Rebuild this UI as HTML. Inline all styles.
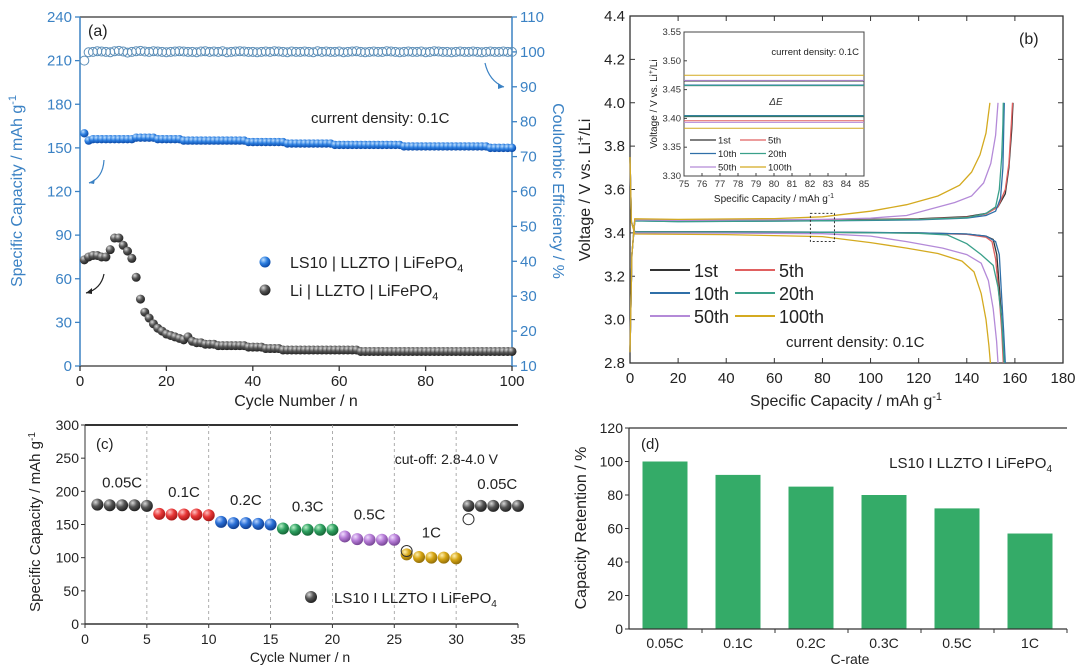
<!DOCTYPE html>
<html><head><meta charset="utf-8"><style>
html,body{margin:0;padding:0;background:#fff;}
svg{display:block;font-family:"Liberation Sans",sans-serif;}
.n{font-family:"Liberation Sans",sans-serif;}
</style></head><body>
<svg id="fig" width="1080" height="668" viewBox="0 0 1080 668" xmlns="http://www.w3.org/2000/svg">
<defs>
<radialGradient id="gBlue" cx="35%" cy="30%" r="70%"><stop offset="0" stop-color="#bfe0ff"/><stop offset="0.5" stop-color="#2d7fe0"/><stop offset="1" stop-color="#0b4aa8"/></radialGradient>
<radialGradient id="gGray" cx="35%" cy="30%" r="70%"><stop offset="0" stop-color="#d8d8d8"/><stop offset="0.5" stop-color="#555"/><stop offset="1" stop-color="#222"/></radialGradient>
<radialGradient id="gRed" cx="35%" cy="30%" r="70%"><stop offset="0" stop-color="#ffc0c0"/><stop offset="0.5" stop-color="#e83838"/><stop offset="1" stop-color="#a81818"/></radialGradient>
<radialGradient id="gB2" cx="35%" cy="30%" r="70%"><stop offset="0" stop-color="#b8d4ff"/><stop offset="0.5" stop-color="#2a6fd6"/><stop offset="1" stop-color="#123f90"/></radialGradient>
<radialGradient id="gGreen" cx="35%" cy="30%" r="70%"><stop offset="0" stop-color="#b8f0c8"/><stop offset="0.5" stop-color="#2ea060"/><stop offset="1" stop-color="#166838"/></radialGradient>
<radialGradient id="gPurple" cx="35%" cy="30%" r="70%"><stop offset="0" stop-color="#f0dcff"/><stop offset="0.5" stop-color="#b57bd6"/><stop offset="1" stop-color="#7a4898"/></radialGradient>
<radialGradient id="gGold" cx="35%" cy="30%" r="70%"><stop offset="0" stop-color="#fff0b0"/><stop offset="0.5" stop-color="#d6a512"/><stop offset="1" stop-color="#94700a"/></radialGradient>
</defs>
<g id="pa"></g>
<g id="pb"></g>
<g id="pc"></g>
<g id="pd"></g>
</svg>
<script>
// ---- Panel (a) data ----
const aLS10Cap = [160,155,156,156,156,156,156,156,156,156,156,156,157,157,157,157,157,156,156,156,156,156,156,155,155,155,155,155,155,155,155,155,155,155,155,155,155,155,154,154,154,154,154,154,154,154,154,153,153,153,153,153,153,153,153,153,153,153,152,152,152,152,152,152,152,152,152,152,152,152,152,152,152,152,151,151,151,151,151,151,151,151,151,151,151,151,151,151,151,151,151,151,151,151,150,150,150,150,150,150];
const aLiCap = [73,75,76,76,75,75,80,88,88,83,79,74,61,46,37,33,29,26,24,22,21,20,19,18,20,17,16,16,15,15,15,14,14,14,14,14,14,14,13,13,13,13,12,12,12,12,11,11,11,11,11,11,11,11,11,11,11,11,11,11,11,11,11,11,10,10,10,10,10,10,10,10,10,10,10,10,10,10,10,10,10,10,10,10,10,10,10,10,10,10,10,10,10,10,10,10,10,10,10,10];
const aCE = [97.5,99.9,100,100.2,100.1,100,99.9,100.2,100.3,100.1,99.8,100,100.2,100.3,100.1,100,100.2,100.1,100,99.9,100,100.1,100.2,100.1,100,100,99.9,100.1,100.2,100,100.1,100,100.2,99.9,100,100.1,100.2,100.1,100,100,99.9,100,100.1,100,100.2,100.1,100,99.9,100.1,100,100,100.1,100,99.9,100.2,100,100.1,100,100,100.1,99.9,100,100.1,100.2,100,99.9,100,100.1,100,100,100.2,100.1,100,99.9,100,100.1,100,100,100.1,99.9,100,100.2,100.1,100,100,99.9,100,100.1,100,100,100.1,100,99.9,100,100.1,100,100,100.1,100,100];
const aYTicks = [0,30,60,90,120,150,180,210,240];
const aY2Ticks = [10,20,30,40,50,60,70,80,90,100,110];
const aXTicks = [0,20,40,60,80,100];
// ---- Panel (b) data: [capacity, voltage] ----
const bLabels = ["1st","5th","10th","20th","50th","100th"];
const bCharge1 = [[0,2.85],[0.8,3.3],[2,3.462],[20,3.457],[80,3.46],[120,3.465],[140,3.475],[148,3.49],[153,3.52],[156,3.58],[157.5,3.7],[158.7,3.88],[159.2,4.0]];
const bCharge5 = [[0,2.85],[0.8,3.3],[2,3.46],[20,3.456],[80,3.458],[120,3.463],[140,3.472],[148,3.487],[153,3.52],[156,3.6],[157.5,3.72],[158.5,3.9],[159,4.0]];
const bCharge10 = [[0,2.85],[0.8,3.3],[2,3.455],[20,3.452],[80,3.455],[120,3.46],[140,3.468],[148,3.48],[152,3.5],[154,3.56],[155,3.7],[155.4,3.9],[155.6,4.0]];
const bCharge20 = [[0,2.85],[0.8,3.3],[2,3.455],[20,3.452],[80,3.456],[120,3.462],[140,3.47],[148,3.49],[152,3.52],[153.5,3.6],[154.5,3.75],[155,3.9],[155.2,4.0]];
const bCharge50 = [[0,2.85],[0.8,3.3],[2,3.46],[20,3.458],[80,3.462],[100,3.468],[115,3.48],[125,3.51],[135,3.54],[142,3.57],[147,3.63],[150,3.72],[152,3.85],[153,4.0]];
const bCharge100 = [[0,2.85],[0.8,3.3],[2,3.465],[20,3.462],[60,3.466],[80,3.474],[100,3.5],[115,3.53],[128,3.57],[137,3.62],[142,3.68],[145.5,3.76],[148,3.86],[149.6,4.0]];
const bDis1 = [[0,3.75],[0.6,3.45],[2,3.405],[40,3.405],[80,3.403],[120,3.4],[140,3.395],[148,3.385],[151,3.37],[152.5,3.3],[153.5,3.15],[154.5,3.0],[155.5,2.8]];
const bDis5 = [[0,3.75],[0.6,3.45],[2,3.403],[40,3.403],[80,3.402],[120,3.399],[140,3.393],[148,3.38],[150.5,3.36],[152,3.28],[153.5,3.1],[154.5,2.95],[155.2,2.8]];
const bDis10 = [[0,3.75],[0.6,3.45],[2,3.404],[40,3.404],[80,3.403],[120,3.4],[140,3.395],[148,3.385],[152,3.36],[153.5,3.3],[154.5,3.1],[155.3,2.95],[156,2.8]];
const bDis20 = [[0,3.75],[0.6,3.45],[2,3.404],[40,3.404],[80,3.402],[120,3.398],[132,3.39],[140,3.35],[146,3.3],[151,3.25],[153,3.15],[154.5,3.0],[155.5,2.8]];
const bDis50 = [[0,3.75],[0.6,3.45],[2,3.4],[40,3.399],[80,3.396],[100,3.385],[115,3.36],[130,3.33],[140,3.3],[146,3.26],[149,3.18],[151,3.05],[152.4,2.9],[153,2.8]];
const bDis100 = [[0,3.75],[0.6,3.45],[2,3.395],[40,3.392],[80,3.383],[100,3.355],[115,3.33],[128,3.305],[138,3.27],[143,3.22],[146,3.12],[148,3.0],[149.2,2.88],[149.8,2.8]];
const bXTicks = [0,20,40,60,80,100,120,140,160,180];
const bYTicks = [2.8,3.0,3.2,3.4,3.6,3.8,4.0,4.2,4.4];
const inCharge = [3.465,3.457,3.458,3.457,3.466,3.475];
const inDis = [3.403,3.396,3.405,3.404,3.393,3.383];
const inXTicks = [75,76,77,78,79,80,81,82,83,84,85];
const inYTicks = [3.30,3.35,3.40,3.45,3.50,3.55];
// ---- Panel (c) data ----
const cRates = ["0.05C","0.1C","0.2C","0.3C","0.5C","1C","0.05C"];
const cCap = [[180,179,179,179,178],[166,165,165,165,164],[154,152,152,151,150],[144,142,142,142,142],[132,128,127,127,127],[105,101,100,100,99],[178,178,178,178,178]];
const cHollow = [[31,158],[26,110]];
const cYTicks = [0,50,100,150,200,250,300];
const cXTicks = [0,5,10,15,20,25,30,35];
// ---- Panel (d) data ----
const dCats = ["0.05C","0.1C","0.2C","0.3C","0.5C","1C"];
const dVals = [100,92,85,80,72,57];
const dYTicks = [0,20,40,60,80,100,120];

const NS="http://www.w3.org/2000/svg";
function mk(parent,tag,attrs,txt){const e=document.createElementNS(NS,tag);for(const k in attrs)e.setAttribute(k,attrs[k]);if(txt!==undefined)e.textContent=txt;parent.appendChild(e);return e;}
function lin(d0,d1,r0,r1){return v=>r0+(v-d0)/(d1-d0)*(r1-r0);}
function pathOf(pts,sx,sy){return pts.map((p,i)=>(i?'L':'M')+sx(p[0]).toFixed(1)+' '+sy(p[1]).toFixed(1)).join('');}

// ===== Panel a =====
(function(){
const g=document.getElementById('pa');
const X0=80,X1=512,Y0=366,Y1=17;
const sx=lin(0,100,X0,X1), sy=lin(0,240,Y0,Y1), sy2=lin(10,110,Y0,Y1);
const blue="#3b82c4";
let el;
el=mk(g,'line',{x1:X0,y1:Y1,x2:X1,y2:Y1,stroke:'#333','stroke-width':1.3});

el=mk(g,'line',{x1:X0,y1:Y0,x2:X1,y2:Y0,stroke:'#333','stroke-width':1.3});

el=mk(g,'line',{x1:X0,y1:Y0,x2:X0,y2:Y1,stroke:blue,'stroke-width':1.5});

el=mk(g,'line',{x1:X1,y1:Y0,x2:X1,y2:Y1,stroke:blue,'stroke-width':1.5});

aYTicks.forEach(v=>{const y=sy(v);mk(g,'line',{x1:X0-5,y1:y,x2:X0,y2:y,stroke:blue,'stroke-width':1.3});
 el=mk(g,'text',{x:X0-8,y:y+5,'text-anchor':'end','font-size':15,fill:blue},v);
 });
aY2Ticks.forEach(v=>{const y=sy2(v);mk(g,'line',{x1:X1,y1:y,x2:X1+5,y2:y,stroke:blue,'stroke-width':1.3});
 el=mk(g,'text',{x:X1+8,y:y+5,'font-size':15,fill:blue},v);
 });
aXTicks.forEach(v=>{const x=sx(v);mk(g,'line',{x1:x,y1:Y0,x2:x,y2:Y0+5,stroke:'#333','stroke-width':1.3});
 el=mk(g,'text',{x:x,y:Y0+20,'text-anchor':'middle','font-size':15,fill:'#222'},v);
 });
el=mk(g,'text',{x:296,y:406,'text-anchor':'middle','font-size':16,fill:'#222'},'Cycle Number / n');

el=mk(g,'text',{transform:'translate(22,191) rotate(-90)','text-anchor':'middle','font-size':16,fill:blue},'Specific Capacity / mAh g');

mk(el,'tspan',{dy:-6,'font-size':11},'-1');
el=mk(g,'text',{transform:'translate(553,191) rotate(90)','text-anchor':'middle','font-size':16,fill:blue},'Coulombic Efficiency / %');

aCE.forEach((v,i)=>{el=mk(g,'circle',{cx:sx(i+1),cy:sy2(v),r:4.5,fill:'none',stroke:'#5d8fb8','stroke-width':1});
 });
aLiCap.forEach((v,i)=>{el=mk(g,'circle',{cx:sx(i+1),cy:sy(v),r:4.5,fill:'url(#gGray)'});
 });
aLS10Cap.forEach((v,i)=>{el=mk(g,'circle',{cx:sx(i+1),cy:sy(v),r:4.2,fill:'url(#gBlue)'});
 });
el=mk(g,'text',{x:88,y:36,'font-size':16,fill:'#222'},'(a)');

el=mk(g,'text',{x:311,y:123,'font-size':15,fill:'#222'},'current density: 0.1C');

el=mk(g,'circle',{cx:265,cy:262,r:5.5,fill:'url(#gBlue)'});

el=mk(g,'text',{x:290,y:268,'font-size':16,fill:'#222'},'LS10 | LLZTO | LiFePO');

mk(el,'tspan',{dy:4,'font-size':11},'4');
el=mk(g,'circle',{cx:265,cy:290,r:5.5,fill:'url(#gGray)'});

el=mk(g,'text',{x:290,y:296,'font-size':16,fill:'#222'},'Li | LLZTO | LiFePO');

mk(el,'tspan',{dy:4,'font-size':11},'4');
el=mk(g,'path',{d:'M104 160 Q103 178 89 183',fill:'none',stroke:blue,'stroke-width':1.2});

mk(g,'path',{d:'M89 183 l6 -4 l-1 5 z',fill:blue});
el=mk(g,'path',{d:'M485 63 Q489 81 504 87',fill:'none',stroke:blue,'stroke-width':1.2});

mk(g,'path',{d:'M504 87 l-6 -4 l0 6 z',fill:blue});
el=mk(g,'path',{d:'M104 274 Q101 289 86 293',fill:'none',stroke:'#222','stroke-width':1.2});

mk(g,'path',{d:'M86 293 l6 -5 l0 6 z',fill:'#222'});
})();

// ===== Panel b =====
(function(){
const g=document.getElementById('pb');
const X0=630,X1=1063,Y0=363,Y1=16;
const sx=lin(0,180,X0,X1), sy=lin(2.8,4.4,Y0,Y1);
const cols=["#333333","#e06060","#2f6fa8","#3aa08a","#b48ad8","#d4aa20"];
const charges=[bCharge1,bCharge5,bCharge10,bCharge20,bCharge50,bCharge100];
const dis=[bDis1,bDis5,bDis10,bDis20,bDis50,bDis100];
let el;
el=mk(g,'rect',{x:X0,y:Y1,width:X1-X0,height:Y0-Y1,fill:'none',stroke:'#333','stroke-width':1.3});

bXTicks.forEach(v=>{const x=sx(v);mk(g,'line',{x1:x,y1:Y0,x2:x,y2:Y0-5,stroke:'#333'});mk(g,'line',{x1:x,y1:Y1,x2:x,y2:Y1+5,stroke:'#333'});
 el=mk(g,'text',{x:x,y:Y0+20,'text-anchor':'middle','font-size':15,fill:'#222'},v);
 });
bYTicks.forEach(v=>{const y=sy(v);mk(g,'line',{x1:X0,y1:y,x2:X0+5,y2:y,stroke:'#333'});mk(g,'line',{x1:X1,y1:y,x2:X1-5,y2:y,stroke:'#333'});
 el=mk(g,'text',{x:X0-5,y:y+5,'text-anchor':'end','font-size':15,fill:'#222'},v.toFixed(1));
 });
el=mk(g,'text',{x:846,y:406,'text-anchor':'middle','font-size':16,fill:'#222'},'Specific Capacity / mAh g');

mk(el,'tspan',{dy:-6,'font-size':11},'-1');
el=mk(g,'text',{transform:'translate(590,190) rotate(-90)','text-anchor':'middle','font-size':16,fill:'#222'},'Voltage / V vs. Li');

mk(el,'tspan',{dy:-6,'font-size':11},'+');mk(el,'tspan',{dy:6},'/Li');
for(let i=0;i<6;i++){
 el=mk(g,'path',{d:pathOf(charges[i],sx,sy),fill:'none',stroke:cols[i],'stroke-width':1.3});
 
 el=mk(g,'path',{d:pathOf(dis[i],sx,sy),fill:'none',stroke:cols[i],'stroke-width':1.3});
 
}
el=mk(g,'rect',{x:sx(75),y:sy(3.49),width:sx(85)-sx(75),height:sy(3.36)-sy(3.49),fill:'none',stroke:'#333','stroke-dasharray':'2 2'});

for(let i=0;i<6;i++){const c=i%2,r=Math.floor(i/2);const lx=c?735:650,ly=270+r*23;
 el=mk(g,'line',{x1:lx,y1:ly,x2:lx+40,y2:ly,stroke:cols[i],'stroke-width':2});
 
 el=mk(g,'text',{x:lx+44,y:ly+7,'font-size':18,fill:'#222'},bLabels[i]);
 }
el=mk(g,'text',{x:786,y:347,'font-size':15,fill:'#222'},'current density: 0.1C');

el=mk(g,'text',{x:1019,y:44,'font-size':16,fill:'#222'},'(b)');

const IX0=684,IX1=864,IY0=176,IY1=32;
const ix=lin(75,85,IX0,IX1), iy=lin(3.30,3.55,IY0,IY1);
el=mk(g,'rect',{x:IX0,y:IY1,width:IX1-IX0,height:IY0-IY1,fill:'#fff',stroke:'#444','stroke-width':1});

inXTicks.forEach(v=>{const x=ix(v);mk(g,'line',{x1:x,y1:IY0,x2:x,y2:IY0-3,stroke:'#444'});
 el=mk(g,'text',{x:x,y:IY0+11,'text-anchor':'middle','font-size':9.5,fill:'#333'},v);
 });
inYTicks.forEach(v=>{const y=iy(v);mk(g,'line',{x1:IX0,y1:y,x2:IX0+3,y2:y,stroke:'#444'});
 el=mk(g,'text',{x:IX0-3,y:y+3,'text-anchor':'end','font-size':9.5,fill:'#333'},v.toFixed(2));
 });
for(let i=0;i<6;i++){
 el=mk(g,'line',{x1:ix(75),y1:iy(inCharge[i]),x2:ix(85),y2:iy(inCharge[i]),stroke:cols[i],'stroke-width':1});
 
 el=mk(g,'line',{x1:ix(75),y1:iy(inDis[i]),x2:ix(85),y2:iy(inDis[i]),stroke:cols[i],'stroke-width':1});
 
}
el=mk(g,'text',{x:776,y:105,'text-anchor':'middle','font-size':10,'font-style':'italic',fill:'#333'},'ΔE');

el=mk(g,'text',{x:859,y:55,'text-anchor':'end','font-size':9.5,fill:'#222'},'current density: 0.1C');

for(let i=0;i<6;i++){const c=i%2,r=Math.floor(i/2);const lx=c?740:690,ly=140+r*13.5;
 mk(g,'line',{x1:lx,y1:ly,x2:lx+26,y2:ly,stroke:cols[i],'stroke-width':1.2});
 el=mk(g,'text',{x:lx+28,y:ly+3.5,'font-size':9.5,fill:'#222'},bLabels[i]);
 }
el=mk(g,'text',{x:774,y:202,'text-anchor':'middle','font-size':10,fill:'#222'},'Specific Capacity / mAh g');

mk(el,'tspan',{dy:-4,'font-size':7},'-1');
el=mk(g,'text',{transform:'translate(657,104) rotate(-90)','text-anchor':'middle','font-size':10,fill:'#222'},'Voltage / V vs. Li');

mk(el,'tspan',{dy:-4,'font-size':7},'+');mk(el,'tspan',{dy:4},'/Li');
})();

// ===== Panel c =====
(function(){
const g=document.getElementById('pc');
const X0=85,X1=518,Y0=624,Y1=425;
const sx=lin(0,35,X0,X1), sy=lin(0,300,Y0,Y1);
const grads=['url(#gGray)','url(#gRed)','url(#gB2)','url(#gGreen)','url(#gPurple)','url(#gGold)','url(#gGray)'];
let el;
el=mk(g,'line',{x1:X0,y1:Y1,x2:X1,y2:Y1,stroke:'#333','stroke-width':2});

el=mk(g,'line',{x1:X0,y1:Y0,x2:X1,y2:Y0,stroke:'#333','stroke-width':1.5});

el=mk(g,'line',{x1:X0,y1:Y0,x2:X0,y2:Y1,stroke:'#333','stroke-width':1});

cXTicks.forEach(v=>{const x=sx(v);
 if(v>0&&v<35){el=mk(g,'line',{x1:x,y1:Y1,x2:x,y2:Y0,stroke:'#999','stroke-width':0.8,'stroke-dasharray':'3 3'});
 }
 mk(g,'line',{x1:x,y1:Y0,x2:x,y2:Y0+4,stroke:'#333'});
 el=mk(g,'text',{x:x,y:Y0+20,'text-anchor':'middle','font-size':14,fill:'#222',class:'n'},v);
 });
cYTicks.forEach(v=>{const y=sy(v);mk(g,'line',{x1:X0-4,y1:y,x2:X0,y2:y,stroke:'#333'});
 el=mk(g,'text',{x:X0-6,y:y+5,'text-anchor':'end','font-size':14,fill:'#222',class:'n'},v);
 });
el=mk(g,'text',{x:300,y:662,'text-anchor':'middle','font-size':14,fill:'#222',class:'n'},'Cycle Numer / n');

el=mk(g,'text',{transform:'translate(40,522) rotate(-90)','text-anchor':'middle','font-size':15,fill:'#222'},'Specific Capacity / mAh g');

mk(el,'tspan',{dy:-5,'font-size':10},'-1');
cCap.forEach((arr,k)=>{
 arr.forEach((v,j)=>{el=mk(g,'circle',{cx:sx(k*5+j+1),cy:sy(v),r:6,fill:grads[k]});
  });
 const mx=sx(k*5+3), my=sy(Math.max(...arr))-17;
 el=mk(g,'text',{x:k===6?mx+4:mx,y:my,'text-anchor':'middle','font-size':15,fill:'#222',class:'n'},cRates[k]);
 
});
cHollow.forEach(p=>{el=mk(g,'circle',{cx:sx(p[0]),cy:sy(p[1]),r:5.5,fill:'none',stroke:'#333'});
 });
el=mk(g,'text',{x:96,y:449,'font-size':15,fill:'#222',class:'n'},'(c)');

el=mk(g,'text',{x:498,y:464,'text-anchor':'end','font-size':14,fill:'#222',class:'n'},'cut-off: 2.8-4.0 V');

el=mk(g,'circle',{cx:311,cy:597,r:6,fill:'url(#gGray)'});

el=mk(g,'text',{x:334,y:603,'font-size':15,fill:'#222',class:'n'},'LS10 I LLZTO I LiFePO');

mk(el,'tspan',{dy:4,'font-size':10},'4');
})();

// ===== Panel d =====
(function(){
const g=document.getElementById('pd');
const X0=629,X1=1067,Y0=629,Y1=428;
const sy=lin(0,120,Y0,Y1);
const cx=i=>665+73*i;
let el;
dVals.forEach((v,i)=>{el=mk(g,'rect',{x:cx(i)-22.5,y:sy(v),width:45,height:Y0-sy(v),fill:'#34ab68'});
 });
el=mk(g,'line',{x1:X0,y1:Y0,x2:X1,y2:Y0,stroke:'#333','stroke-width':1.2});

el=mk(g,'line',{x1:X0,y1:Y1,x2:X1,y2:Y1,stroke:'#333','stroke-width':1.2});

el=mk(g,'line',{x1:X0,y1:Y0,x2:X0,y2:Y1,stroke:'#333','stroke-width':1.2});

dYTicks.forEach(v=>{const y=sy(v);mk(g,'line',{x1:X0-4,y1:y,x2:X0,y2:y,stroke:'#333'});
 el=mk(g,'text',{x:X0-6,y:y+5,'text-anchor':'end','font-size':14,fill:'#222',class:'n'},v);
 });
dCats.forEach((c,i)=>{const tx=X0+(X1-X0)/6*(i+1);mk(g,'line',{x1:tx,y1:Y0,x2:tx,y2:Y0+4,stroke:'#333'});
 el=mk(g,'text',{x:cx(i),y:Y0+19,'text-anchor':'middle','font-size':14,fill:'#222',class:'n'},c);
 });
el=mk(g,'text',{x:850,y:664,'text-anchor':'middle','font-size':14,fill:'#222',class:'n'},'C-rate');

el=mk(g,'text',{transform:'translate(586,528) rotate(-90)','text-anchor':'middle','font-size':16,fill:'#222'},'Capacity Retention / %');

el=mk(g,'text',{x:641,y:449,'font-size':15,fill:'#222',class:'n'},'(d)');

el=mk(g,'text',{x:1052,y:468,'text-anchor':'end','font-size':15,fill:'#222',class:'n'},'LS10 I LLZTO I LiFePO');

mk(el,'tspan',{dy:4,'font-size':10},'4');
})();
</script>
</body></html>
